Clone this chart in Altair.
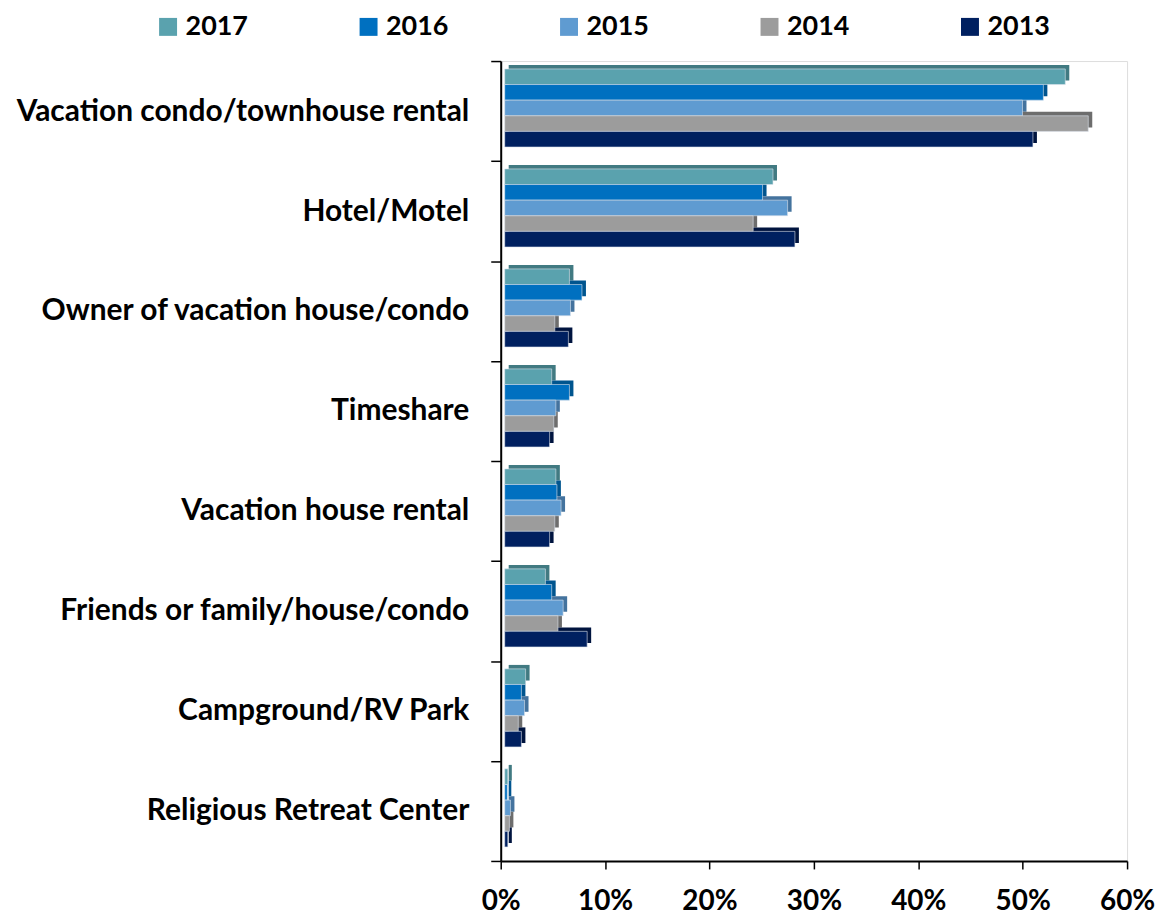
import altair as alt
import pandas as pd

categories = [
    "Vacation condo/townhouse rental",
    "Hotel/Motel",
    "Owner of vacation house/condo ",
    "Timeshare",
    "Vacation house rental",
    "Friends or family/house/condo",
    "Campground/RV Park",
    "Religious Retreat Center",
]
years = ["2017", "2016", "2015", "2014", "2013"]
v2017 = [53.7, 25.7, 6.2, 4.5, 4.9, 3.9, 2.0, 0.3]
v2016 = [51.6, 24.7, 7.4, 6.2, 5.0, 4.5, 1.6, 0.25]
v2015 = [49.6, 27.1, 6.3, 4.9, 5.4, 5.6, 1.9, 0.55]
v2014 = [55.9, 23.8, 4.8, 4.7, 4.8, 5.1, 1.3, 0.45]
v2013 = [50.6, 27.8, 6.1, 4.3, 4.3, 7.9, 1.6, 0.3]

front_colors = ["#5aa2ae", "#0070c0", "#5f9bd1", "#9c9c9c", "#002060"]
side_colors = ["#417a82", "#00558f", "#44739e", "#6d6d6d", "#00143f"]

series = dict(zip(years, [v2017, v2016, v2015, v2014, v2013]))
rows = []
for y in years:
    for c, v in zip(categories, series[y]):
        rows.append({"category": c, "year": y, "value": v / 100.0})
df = pd.DataFrame(rows)

FONT = "Lato"

y_enc = alt.Y(
    "category:N",
    sort=categories,
    title=None,
    scale=alt.Scale(paddingInner=0, paddingOuter=0),
    axis=alt.Axis(
        tickBand="extent",
        tickSize=10,
        tickColor="black",
        tickWidth=1.5,
        domainColor="black",
        domainWidth=2,
        labelFont=FONT,
        labelFontWeight="bold",
        labelFontSize=30,
        labelColor="black",
        labelPadding=22,
        labelLimit=700,
    ),
)
x_enc = alt.X(
    "value:Q",
    title=None,
    scale=alt.Scale(domain=[0, 0.6], nice=False),
    axis=alt.Axis(
        format="%",
        values=[0, 0.1, 0.2, 0.3, 0.4, 0.5, 0.6],
        grid=False,
        tickSize=8,
        tickColor="black",
        tickWidth=1.5,
        domainColor="black",
        domainWidth=2,
        labelFont=FONT,
        labelFontWeight="bold",
        labelFontSize=28,
        labelColor="black",
        labelPadding=19,
        labelFlush=False,
    ),
)

side = alt.Chart(df).mark_bar(xOffset=8).encode(
    x=x_enc,
    y=y_enc,
    yOffset=alt.YOffset("year:N", sort=years,
                        scale=alt.Scale(paddingInner=0, paddingOuter=0.7, align=0.18)),
    color=alt.Color("year:N", sort=years, scale=alt.Scale(domain=years, range=side_colors), legend=None),
)

front = alt.Chart(df).mark_bar(xOffset=4, stroke="#dde4ec", strokeWidth=0.6).encode(
    x=x_enc,
    y=y_enc,
    yOffset=alt.YOffset("year:N", sort=years,
                        scale=alt.Scale(paddingInner=0, paddingOuter=0.7, align=0.36)),
    color=alt.Color(
        "year:N",
        sort=years,
        scale=alt.Scale(domain=years, range=front_colors),
        legend=alt.Legend(
            title=None,
            orient="none",
            legendX=-347,
            legendY=-48,
            direction="horizontal",
            symbolType="square",
            symbolSize=324,
            symbolStrokeWidth=0,
            labelFont=FONT,
            labelFontWeight="bold",
            labelFontSize=27,
            labelColor="black",
            columnPadding=107,
            labelOffset=4,
            padding=0,
        ),
    ),
)

chart = (
    alt.layer(side, front)
    .resolve_scale(color="independent", yOffset="independent")
    .properties(
        width=628,
        height=802,
        autosize=alt.AutoSizeParams(type="none"),
        padding={"left": 494, "top": 52, "right": 28, "bottom": 54},
    )
    .configure_view(strokeWidth=0)
    .configure(background="white")
)

chart.save("out.html", embed_options={"renderer": "svg", "actions": False})
